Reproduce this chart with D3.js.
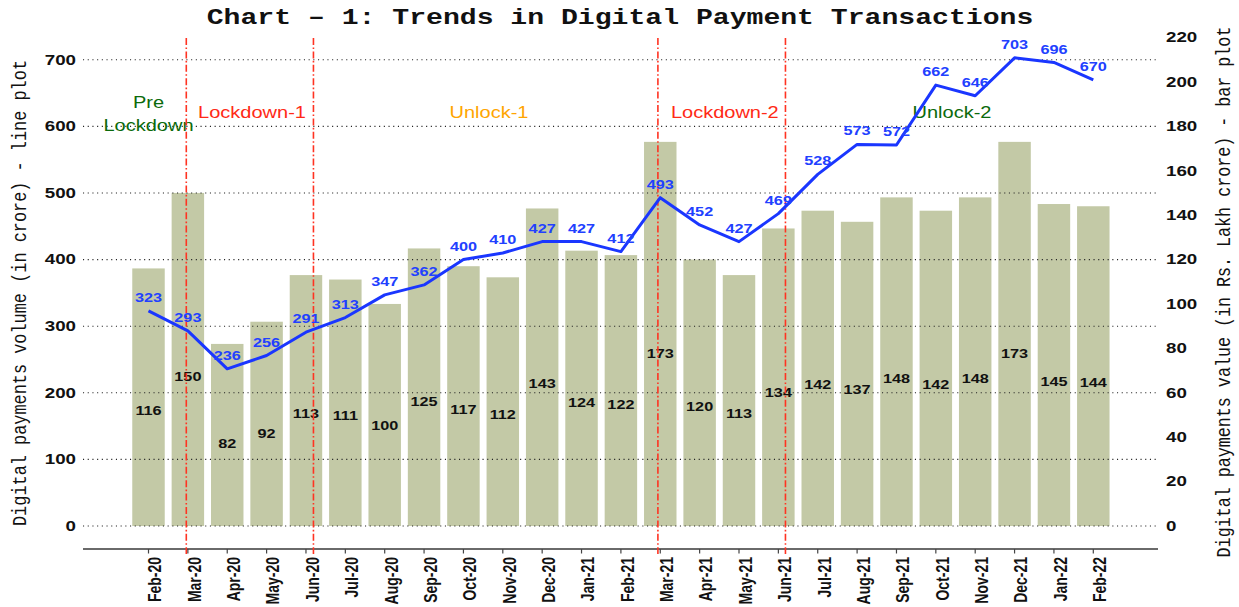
<!DOCTYPE html>
<html>
<head>
<meta charset="utf-8">
<script src="https://cdn.jsdelivr.net/npm/d3@7"></script>
<style>
  html, body { margin: 0; padding: 0; background: #ffffff; }
  svg { display: block; }
</style>
</head>
<body>
<svg id="chart" width="1239" height="607"></svg>
<script>
// ---------------- data ----------------
const months = ["Feb-20","Mar-20","Apr-20","May-20","Jun-20","Jul-20","Aug-20","Sep-20","Oct-20","Nov-20","Dec-20",
  "Jan-21","Feb-21","Mar-21","Apr-21","May-21","Jun-21","Jul-21","Aug-21","Sep-21","Oct-21","Nov-21","Dec-21",
  "Jan-22","Feb-22"];
// line plot: digital payments volume (in crore)
const volume = [323,293,236,256,291,313,347,362,400,410,427,427,412,493,452,427,469,528,573,572,662,646,703,696,670];
// bar plot: digital payments value (in Rs. Lakh crore)
const value = [116,150,82,92,113,111,100,125,117,112,143,124,122,173,120,113,134,142,137,148,142,148,173,145,144];
const leftTicks = [0,100,200,300,400,500,600,700];
const rightTicks = [0,20,40,60,80,100,120,140,160,180,200,220];
// phase boundaries (month index positions)
const phaseLines = [0.96, 4.19, 12.94, 16.18];
const phaseNames = [["Pre","Lockdown"],["Lockdown-1"],["Unlock-1"],["Lockdown-2"],["Unlock-2"]];
const phaseColors = ["#0b6a0b","#ff2a16","#ffa500","#ff2a16","#0b6a0b"];
const phaseX = [0, 2.63, 8.65, 14.64, 20.41];   // in month-index units
const phaseY = [636, 620, 620, 620, 620];        // in left-axis units

const title = "Chart \u2013 1: Trends in Digital Payment Transactions";
const leftTitle = "Digital payments volume (in crore) - line plot";
const rightTitle = "Digital payments value (in Rs. Lakh crore) - bar plot";

// ---------------- layout ----------------
const SX = 1.25; // horizontal stretch of glyphs
const svg = d3.select("#chart");
const plotL = 83, plotR = 1158, axisY = 549;

const x = d3.scalePoint().domain(months).range([148.5, 1093.3]);
const step = x.step();
const xi = i => x(months[0]) + i * step;
const barW = step * 0.825;
const yL = d3.scaleLinear().domain([0, 700]).range([526, 59.8]);
const yR = d3.scaleLinear().domain([0, 220]).range([526, 37.5]);

function stretchedText(g, tx, ty, rot) {
  return g.attr("transform", `translate(${tx},${ty}) scale(${SX},1)` + (rot ? ` rotate(${rot})` : ""));
}

// bars
svg.append("g").selectAll("rect").data(value).join("rect")
  .attr("x", (d, i) => x(months[i]) - barW / 2)
  .attr("width", barW)
  .attr("y", d => yR(d))
  .attr("height", d => yR(0) - yR(d))
  .attr("fill", "#c3c9a6");

// gridlines (left axis)
svg.append("g").selectAll("line").data(leftTicks).join("line")
  .attr("x1", plotL).attr("x2", plotR)
  .attr("y1", d => yL(d)).attr("y2", d => yL(d))
  .attr("stroke", "#222").attr("stroke-width", 1.1)
  .attr("stroke-dasharray", "1.1,3.6");

// x axis line and ticks
svg.append("line").attr("x1", plotL).attr("x2", plotR).attr("y1", axisY).attr("y2", axisY)
  .attr("stroke", "#6a6a6a").attr("stroke-width", 2);
svg.append("g").selectAll("line").data(months).join("line")
  .attr("x1", d => x(d)).attr("x2", d => x(d))
  .attr("y1", axisY).attr("y2", axisY + 4.5)
  .attr("stroke", "#444").attr("stroke-width", 1.2);

// x tick labels
svg.append("g").selectAll("text").data(months).join("text")
  .each(function(d) { stretchedText(d3.select(this), x(d) + 12.8, 557, -90); })
  .attr("text-anchor", "end")
  .attr("font-family", "'Liberation Sans', Arial, sans-serif")
  .attr("font-weight", "bold").attr("font-size", 14)
  .attr("fill", "#111")
  .text(d => d);

// left tick labels
svg.append("g").selectAll("text").data(leftTicks).join("text")
  .each(function(d) { stretchedText(d3.select(this), 76, yL(d), 0); })
  .attr("text-anchor", "end").attr("dominant-baseline", "central")
  .attr("font-family", "'Liberation Sans', Arial, sans-serif")
  .attr("font-weight", "bold").attr("font-size", 15).attr("fill", "#111")
  .text(d => d);

// right tick labels
svg.append("g").selectAll("text").data(rightTicks).join("text")
  .each(function(d) { stretchedText(d3.select(this), 1166, yR(d), 0); })
  .attr("text-anchor", "start").attr("dominant-baseline", "central")
  .attr("font-family", "'Liberation Sans', Arial, sans-serif")
  .attr("font-weight", "bold").attr("font-size", 15).attr("fill", "#111")
  .text(d => d);

// bar value labels
svg.append("g").selectAll("text").data(value).join("text")
  .each(function(d, i) { stretchedText(d3.select(this), x(months[i]), yR(d * 0.45), 0); })
  .attr("text-anchor", "middle").attr("dominant-baseline", "central")
  .attr("font-family", "'Liberation Sans', Arial, sans-serif")
  .attr("font-weight", "bold").attr("font-size", 13).attr("fill", "#111")
  .text(d => d);

// phase labels
phaseNames.forEach((lines, k) => {
  lines.forEach((t, j) => {
    const yy = lines.length > 1 ? (j === 0 ? yL(phaseY[k]) : yL(phaseY[k]) + 23.5) : yL(phaseY[k]);
    stretchedText(svg.append("text"), xi(phaseX[k]), yy, 0)
      .attr("text-anchor", "middle").attr("dominant-baseline", "central")
      .attr("font-family", "'Liberation Sans', Arial, sans-serif")
      .attr("font-size", 16).attr("fill", phaseColors[k])
      .text(t);
  });
});

// phase boundary lines
svg.append("g").selectAll("line").data(phaseLines).join("line")
  .attr("x1", d => xi(d)).attr("x2", d => xi(d))
  .attr("y1", 38).attr("y2", 554)
  .attr("stroke", "#ff3322").attr("stroke-width", 1.6)
  .attr("stroke-dasharray", "7,2.4,1.6,2.4");

// volume line
const line = d3.line().x((d, i) => x(months[i])).y(d => yL(d));
svg.append("path").datum(volume)
  .attr("d", line).attr("fill", "none")
  .attr("stroke", "#1a36ff").attr("stroke-width", 3)
  .attr("stroke-linejoin", "round");

// volume labels
svg.append("g").selectAll("text").data(volume).join("text")
  .each(function(d, i) { stretchedText(d3.select(this), x(months[i]), yL(d + 20), 0); })
  .attr("text-anchor", "middle").attr("dominant-baseline", "central")
  .attr("font-family", "'Liberation Sans', Arial, sans-serif")
  .attr("font-weight", "bold").attr("font-size", 13).attr("fill", "#2140ff")
  .text(d => d);

// axis titles
stretchedText(svg.append("text"), 26, 293, -90)
  .attr("text-anchor", "middle")
  .attr("font-family", "'Liberation Mono', 'DejaVu Sans Mono', monospace")
  .attr("font-size", 16.9).attr("fill", "#111")
  .text(leftTitle);
stretchedText(svg.append("text"), 1230, 292, -90)
  .attr("text-anchor", "middle")
  .attr("font-family", "'Liberation Mono', 'DejaVu Sans Mono', monospace")
  .attr("font-size", 16.7).attr("fill", "#111")
  .text(rightTitle);

// title
stretchedText(svg.append("text"), 620, 24, 0)
  .attr("text-anchor", "middle")
  .attr("font-family", "'Liberation Mono', 'DejaVu Sans Mono', monospace")
  .attr("font-weight", "bold").attr("font-size", 22.5).attr("fill", "#111")
  .text(title);
</script>
</body>
</html>
